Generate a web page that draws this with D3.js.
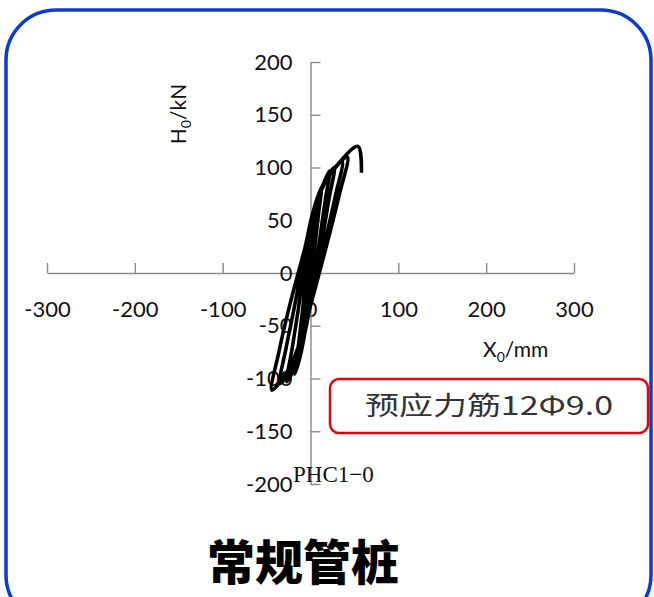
<!DOCTYPE html>
<html>
<head>
<meta charset="utf-8">
<script src="https://cdn.jsdelivr.net/npm/d3@7"></script>
<style>
  html, body { margin: 0; padding: 0; background: #fff; }
  svg { display: block; }
</style>
</head>
<body>
<svg id="chart" width="654" height="597"></svg>
<script>
  // 数据：滞回曲线 (位移 mm, 荷载 kN)
  const dispMm = [
    0, 3, 6, 3, 0, -3, -6, -3, -1,
    2, 5, 9, 12.5, 9, 5, 2, -2, -6, -12, -9, -5, -3,
    1, 5, 12, 22, 17, 11, 5, 0, -6, -12, -18, -14, -9, -5,
    0, 5, 14, 27, 21, 14, 7, 1, -6, -16, -27, -21, -14, -8,
    -2, 4, 16, 36, 28, 18, 8, 1, -7, -20, -35, -28, -19, -11,
    -5, 3, 18, 42, 33, 22, 10, 2, -8, -24, -44, -36, -25, -14,
    -6, 2, 12, 28, 54, 58
  ]
  const loadKn = [
    0, 25, 45, 22, 0, -20, -40, -18, 0,
    20, 45, 65, 79, 55, 25, 0, -25, -48, -70, -50, -22, 0,
    22, 50, 78, 97, 70, 35, 0, -25, -55, -80, -96, -70, -35, 0,
    25, 55, 82, 100, 70, 35, 0, -25, -55, -85, -103, -72, -35, 0,
    25, 55, 85, 106, 72, 35, 0, -25, -55, -88, -105, -72, -35, 0,
    25, 55, 88, 110, 75, 38, 0, -25, -55, -90, -111, -75, -35, 0,
    25, 55, 80, 100, 120, 95
  ]
  const xTicks = [-300, -200, -100, 0, 100, 200, 300]
  const yTicks = [-200, -150, -100, -50, 0, 50, 100, 150, 200]

  const svg = d3.select('#chart')

  // 蓝色圆角外框
  svg.append('rect')
    .attr('x', 6).attr('y', 10)
    .attr('width', 645).attr('height', 615)
    .attr('rx', 50).attr('ry', 50)
    .style('fill', 'none')
    .style('stroke', '#0b3bd6')
    .style('stroke-width', 3.5)

  const x = d3.scaleLinear().domain([-300, 300]).range([47, 574])
  const y = d3.scaleLinear().domain([-200, 200]).range([484, 62])

  const axisColor = '#8a8a8a'
  const tickFont = 'Lato, "Open Sans", sans-serif'
  const fmt = d => String(d)

  const gx = svg.append('g')
    .attr('transform', `translate(0,${y(0)})`)
    .call(d3.axisBottom(x).tickValues(xTicks).tickFormat(fmt)
      .tickSize(-10).tickSizeOuter(0).tickPadding(28))
  const gy = svg.append('g')
    .attr('transform', `translate(${x(0)},0)`)
    .call(d3.axisLeft(y).tickValues(yTicks).tickFormat(fmt)
      .tickSize(-10).tickSizeOuter(0).tickPadding(18))

  for (const g of [gx, gy]) {
    g.select('.domain').style('stroke', axisColor).style('stroke-width', 1.4)
    g.selectAll('.tick line').style('stroke', axisColor).style('stroke-width', 1.4)
    g.selectAll('.tick text')
      .style('font-family', tickFont)
      .style('font-size', '22px')
      .style('fill', '#111')
  }

  // 坐标轴标题
  const yTitle = svg.append('text')
    .attr('transform', 'translate(186,114) rotate(-90)')
    .style('text-anchor', 'middle')
    .style('font-family', tickFont)
    .style('font-size', '21px')
    .style('fill', '#111')
  yTitle.append('tspan').text('H')
  yTitle.append('tspan').attr('dy', 5).style('font-size', '14px').text('0')
  yTitle.append('tspan').attr('dy', -5).text('/kN')

  const xTitle = svg.append('text')
    .attr('x', 483).attr('y', 357)
    .style('font-family', tickFont)
    .style('font-size', '21px')
    .style('fill', '#111')
  xTitle.append('tspan').text('X')
  xTitle.append('tspan').attr('dy', 5).style('font-size', '14px').text('0')
  xTitle.append('tspan').attr('dy', -5).text('/mm')

  // 滞回曲线
  const pts = dispMm.map((d, i) => [d, loadKn[i]])
  const line = d3.line()
    .x(d => x(d[0]))
    .y(d => y(d[1]))
    .curve(d3.curveCatmullRom.alpha(0.5))
  svg.append('path')
    .datum(pts)
    .attr('d', line)
    .style('fill', 'none')
    .style('stroke', '#000')
    .style('stroke-width', 3.6)
    .style('stroke-linejoin', 'round')

  // 试件编号
  svg.append('text')
    .attr('x', 293).attr('y', 482)
    .style('font-family', '"Liberation Serif", serif')
    .style('font-size', '23px')
    .style('fill', '#111')
    .text('PHC1−0')

  // 红色标注框
  svg.append('rect')
    .attr('x', 330).attr('y', 379)
    .attr('width', 318).attr('height', 54)
    .attr('rx', 9).attr('ry', 9)
    .style('fill', '#fff')
    .style('stroke', '#e8000b')
    .style('stroke-width', 2.5)
  svg.append('text')
    .attr('x', 365).attr('y', 415)
    .attr('textLength', 248)
    .attr('lengthAdjust', 'spacingAndGlyphs')
    .style('font-family', '"Noto Sans CJK SC", sans-serif')
    .style('font-size', '26px')
    .style('fill', '#333')
    .text('预应力筋12Φ9.0')

  // 标题
  svg.append('text')
    .attr('x', 303).attr('y', 580)
    .style('text-anchor', 'middle')
    .style('font-family', '"Noto Sans CJK SC", sans-serif')
    .style('font-size', '48px')
    .style('font-weight', 900)
    .style('fill', '#000')
    .text('常规管桩')
</script>
</body>
</html>
